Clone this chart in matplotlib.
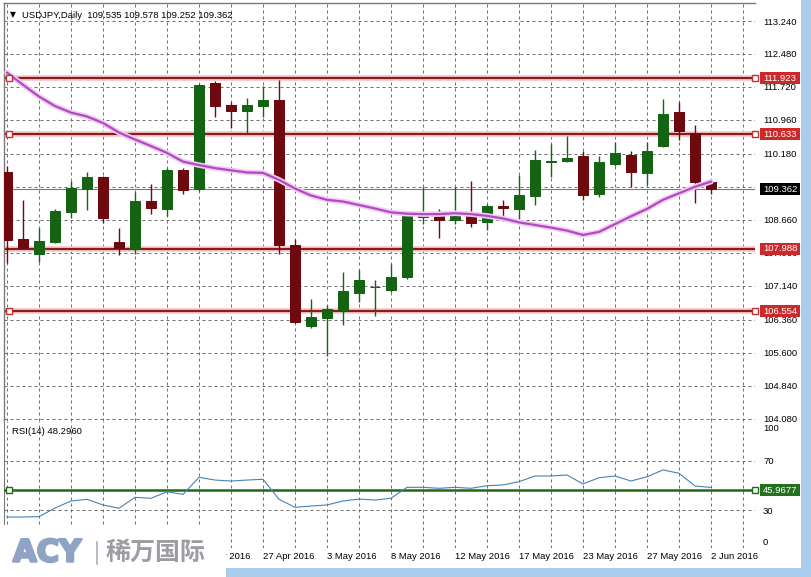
"""USDJPY daily candles with 20-day MA, S/R levels and RSI(14) (MT4 style screenshot)."""

import matplotlib

matplotlib.use("Agg")
import matplotlib.pyplot as plt
import matplotlib.patheffects as pe
from matplotlib.patches import Rectangle

W, H = 811, 577

# ---- data (oldest bar first) ----
opens = [109.76, 108.22, 107.86, 108.14, 108.85, 109.37, 109.64, 108.14, 108.00, 109.09,
         108.91, 109.81, 109.36, 111.80, 111.30, 111.17, 111.29, 111.42, 108.07, 106.21,
         106.40, 106.58, 106.98, 107.10, 107.04, 107.33, 108.73, 108.81, 108.66, 108.77,
         108.62, 108.98, 108.91, 109.21, 109.99, 110.02, 110.13, 109.25, 109.94, 110.15,
         109.73, 110.37, 111.14, 110.65, 109.535]
highs = [109.90, 109.12, 108.46, 108.91, 109.56, 109.75, 109.68, 108.46, 109.29, 109.48,
         109.86, 109.85, 111.79, 111.85, 111.37, 111.46, 111.74, 111.88, 108.21, 106.83,
         106.70, 107.46, 107.50, 107.27, 107.64, 108.82, 109.42, 108.90, 109.42, 109.55,
         109.02, 109.12, 109.69, 110.27, 110.41, 110.60, 110.24, 110.13, 110.45, 110.24,
         110.45, 111.44, 111.37, 110.84, 109.578]
lows = [107.66, 108.00, 107.69, 108.12, 108.71, 108.89, 108.59, 107.85, 107.86, 108.79,
        108.75, 109.25, 109.33, 111.02, 110.77, 110.65, 111.02, 107.86, 106.27, 106.16,
        105.52, 106.24, 106.77, 106.44, 107.00, 107.29, 108.56, 108.23, 108.56, 108.50,
        108.42, 108.64, 108.67, 109.00, 109.65, 110.00, 109.12, 109.19, 109.90, 109.42,
        109.45, 110.34, 110.50, 109.05, 109.252]
closes = [108.19, 108.02, 108.17, 108.86, 109.39, 109.64, 108.71, 108.00, 109.09, 108.94,
          109.81, 109.35, 111.77, 111.27, 111.17, 111.30, 111.42, 108.07, 106.31, 106.43,
          106.60, 107.02, 107.27, 107.11, 107.33, 108.75, 108.81, 108.66, 108.79, 108.59,
          108.98, 108.92, 109.23, 110.04, 110.02, 110.08, 109.23, 109.99, 110.19, 109.77,
          110.24, 111.10, 110.71, 109.52, 109.362]
ma_values = [112.05, 111.77, 111.50, 111.28, 111.13, 111.04, 110.89, 110.67, 110.51, 110.36,
             110.20, 110.00, 109.92, 109.85, 109.80, 109.75, 109.74, 109.58, 109.38, 109.22,
             109.12, 109.08, 109.00, 108.92, 108.83, 108.80, 108.79, 108.79, 108.81, 108.79,
             108.75, 108.69, 108.60, 108.54, 108.48, 108.41, 108.31, 108.38, 108.56, 108.74,
             108.91, 109.12, 109.27, 109.42, 109.54]
rsi_values = [24.3, 24.3, 24.6, 31.6, 37.3, 38.7, 34.1, 31.4, 40.3, 39.5,
              44.8, 42.7, 56.5, 54.3, 53.5, 54.3, 54.9, 38.7, 32.2, 33.2,
              34.1, 37.3, 38.9, 38.1, 39.5, 48.4, 48.4, 47.6, 48.4, 47.6,
              49.7, 50.3, 53.0, 57.6, 57.6, 58.4, 51.1, 56.2, 57.6, 53.5,
              57.0, 62.5, 59.8, 49.5, 48.3]

date_positions = [12, 16, 20, 24, 28, 32, 36, 40, 44]
date_labels = ["22 Apr 2016", "27 Apr 2016", "3 May 2016", "8 May 2016", "12 May 2016",
               "17 May 2016", "23 May 2016", "27 May 2016", "2 Jun 2016"]
price_ticks = [113.240, 112.480, 111.720, 110.960, 110.180, 109.420, 108.660,
               107.900, 107.140, 106.360, 105.600, 104.840, 104.080]
levels = [111.923, 110.633, 107.988, 106.554]
level_markers = [True, True, False, True]
last_price = 109.362
rsi_level = 45.9677
rsi_ticks = [100, 70, 30, 0]
rsi_grid = [70, 30]
header = "USDJPY,Daily  109.535 109.578 109.252 109.362"
rsi_header = "RSI(14) 48.2960"

# ---- style ----
BULL = "#146414"
BEAR = "#6e0a0f"
LEVEL = "#8b1c1c"
LEVEL_GLOW = "#f6cccc"
MA = "#b04ac0"
MA_GLOW = "#f2cdf2"
RSI_LINE = "#4682b4"
RSI_LEVEL = "#23691a"
GRID = "#707070"
FRAME_BLUE = "#aacdec"
FS = 6.8

plt.rcParams["font.family"] = ["Liberation Sans", "DejaVu Sans"]


def px_axes(fig, left, top, right, bottom):
    return fig.add_axes([left / W, 1 - bottom / H, (right - left) / W, (bottom - top) / H])


fig = plt.figure(figsize=(W / 100, H / 100), dpi=100)
fig.patch.set_facecolor("white")

AX_L, AX_R = 4, 755
x_lim = (-(7 - AX_L) / 16, (AX_R - 7) / 16)
ax_w = AX_R - AX_L
grid_style = dict(color=GRID, linewidth=0.72, linestyle=(0, (3, 3)))

# ---- price panel ----
ax = px_axes(fig, AX_L, 3, AX_R, 421)
px_per_unit = 43.4
ax.set_ylim(113.24 - 400 / px_per_unit, 113.24 + 18 / px_per_unit)
ax.set_xlim(*x_lim)
for side in ("right", "bottom"):
    ax.spines[side].set_visible(False)
for side in ("left", "top"):
    ax.spines[side].set_color("#7a7a7a")
    ax.spines[side].set_linewidth(1.0)

grid_k = list(range(0, 47, 2))
ax.set_xticks(grid_k)
ax.tick_params(axis="x", length=0, labelbottom=False)
ax.yaxis.tick_right()
ax.set_yticks(price_ticks)
ax.set_yticklabels([f"{t:.3f}" for t in price_ticks])
ax.tick_params(axis="y", length=0, pad=5.8, labelsize=FS)
ax.grid(True, **grid_style)
ax.set_axisbelow(True)

xs = list(range(len(opens)))
cols = [BULL if c >= o else BEAR for o, c in zip(opens, closes)]
bottoms = [min(o, c) for o, c in zip(opens, closes)]
heights = [abs(c - o) for o, c in zip(opens, closes)]
ax.vlines(xs, lows, highs, colors=cols, linewidth=1.0, zorder=3)
ax.bar(xs, heights, bottom=bottoms, width=0.62, color=cols, edgecolor=cols,
       linewidth=0.72, zorder=4)

ax.plot(xs, ma_values, color=MA_GLOW, linewidth=4.0, solid_capstyle="round", zorder=5)
ax.plot(xs, ma_values, color=MA, linewidth=1.6, zorder=6)

ytrans = ax.get_yaxis_transform()
ax.axhline(last_price, color="#6f7a90", linewidth=0.8, zorder=2)
for lv, mk in zip(levels, level_markers):
    ax.axhline(lv, color=LEVEL_GLOW, linewidth=4.2, zorder=2)
    ax.axhline(lv, color=LEVEL, linewidth=1.6, zorder=2)
    if mk:
        ax.plot([(9 - AX_L) / ax_w, 1.0], [lv, lv], linestyle="none", marker="s", ms=4,
                mfc="white", mec="#c03030", mew=1.0, transform=ytrans, clip_on=False, zorder=7)


def value_box(axis, y, text, face, unit_h):
    tr = axis.get_yaxis_transform()
    box_h = 12 * unit_h
    axis.add_patch(Rectangle(((760 - AX_L) / ax_w, y - box_h / 2), 40 / ax_w, box_h,
                             transform=tr, facecolor=face, edgecolor="none",
                             clip_on=False, zorder=8))
    axis.text((780 - AX_L) / ax_w, y, text, transform=tr, ha="center", va="center",
              color="white", fontsize=FS, clip_on=False, zorder=9)


unit = 1 / px_per_unit
for lv in levels:
    value_box(ax, lv, f"{lv:.3f}", "#cc2a2a", unit)
value_box(ax, last_price, f"{last_price:.3f}", "black", unit)

# ---- RSI panel ----
rx = px_axes(fig, AX_L, 421, AX_R, 548)
rsi_scale = 1.2325
rx.set_ylim(30 - 38 / rsi_scale, 30 + 89 / rsi_scale)
rx.set_xlim(*x_lim)
for side in ("right", "bottom", "top"):
    rx.spines[side].set_visible(False)
rx.spines["left"].set_color("#7a7a7a")
rx.set_xticks(grid_k)
lab = dict(zip(date_positions, date_labels))
rx.set_xticklabels([lab.get(k, "") for k in grid_k], fontsize=FS, ha="left")
rx.tick_params(axis="x", length=0, pad=2.6)
rx.grid(True, axis="x", **grid_style)
for g in rsi_grid:
    rx.axhline(g, zorder=1, **grid_style)
rx.yaxis.tick_right()
rx.set_yticks(rsi_ticks)
rx.set_yticklabels([str(t) for t in rsi_ticks])
rx.tick_params(axis="y", length=0, pad=5.8, labelsize=FS)
tl = rx.get_yticklabels()
tl[0].set_verticalalignment("top")
tl[-1].set_verticalalignment("bottom")

rx.axhline(rsi_level, color=RSI_LEVEL, linewidth=1.8, zorder=3)
rx.plot([(9 - AX_L) / ax_w, 1.0], [rsi_level, rsi_level], linestyle="none", marker="s", ms=4,
        mfc="white", mec=RSI_LEVEL, mew=1.0, transform=rx.get_yaxis_transform(),
        clip_on=False, zorder=7)
rx.plot(xs, rsi_values, color=RSI_LINE, linewidth=0.8, zorder=4)
value_box(rx, rsi_level, f"{rsi_level:.4f}", "#25701f", 1 / rsi_scale)

# ---- overlay: window frame, captions, logo ----
ov = fig.add_axes([0, 0, 1, 1])
ov.set_xlim(0, W)
ov.set_ylim(H, 0)
ov.axis("off")
ov.patch.set_visible(False)
ov.add_patch(Rectangle((801, 0), 10, H, facecolor=FRAME_BLUE, edgecolor="none"))
ov.add_patch(Rectangle((0, 568), W, 9, facecolor=FRAME_BLUE, edgecolor="none"))
ov.text(10, 15, "\u25bc", fontsize=5.5, ha="left", va="center", family=["DejaVu Sans"])
ov.text(22, 15, header, fontsize=FS, ha="left", va="center")
ov.text(12, 432, rsi_header, fontsize=FS, ha="left", va="center")

ov.add_patch(Rectangle((0, 525), 226, H - 525, facecolor="white", edgecolor="none", zorder=5))
acy_color = "#8fa3c5"
ov.text(13, 553, "ACY", fontsize=22, fontweight="bold", color=acy_color,
        family=["DejaVu Sans"], ha="left", va="center", zorder=6,
        path_effects=[pe.withStroke(linewidth=1.8, foreground=acy_color)])
ov.plot([97, 97], [542, 564], color="#a9b0b8", linewidth=1.2, zorder=6)
ov.text(106, 553, "稀万国际", fontsize=18, fontweight="bold", color="#9c9ca2",
        family=["Noto Sans CJK SC"], ha="left", va="center", zorder=6)

fig.savefig("out.png", dpi=100)
